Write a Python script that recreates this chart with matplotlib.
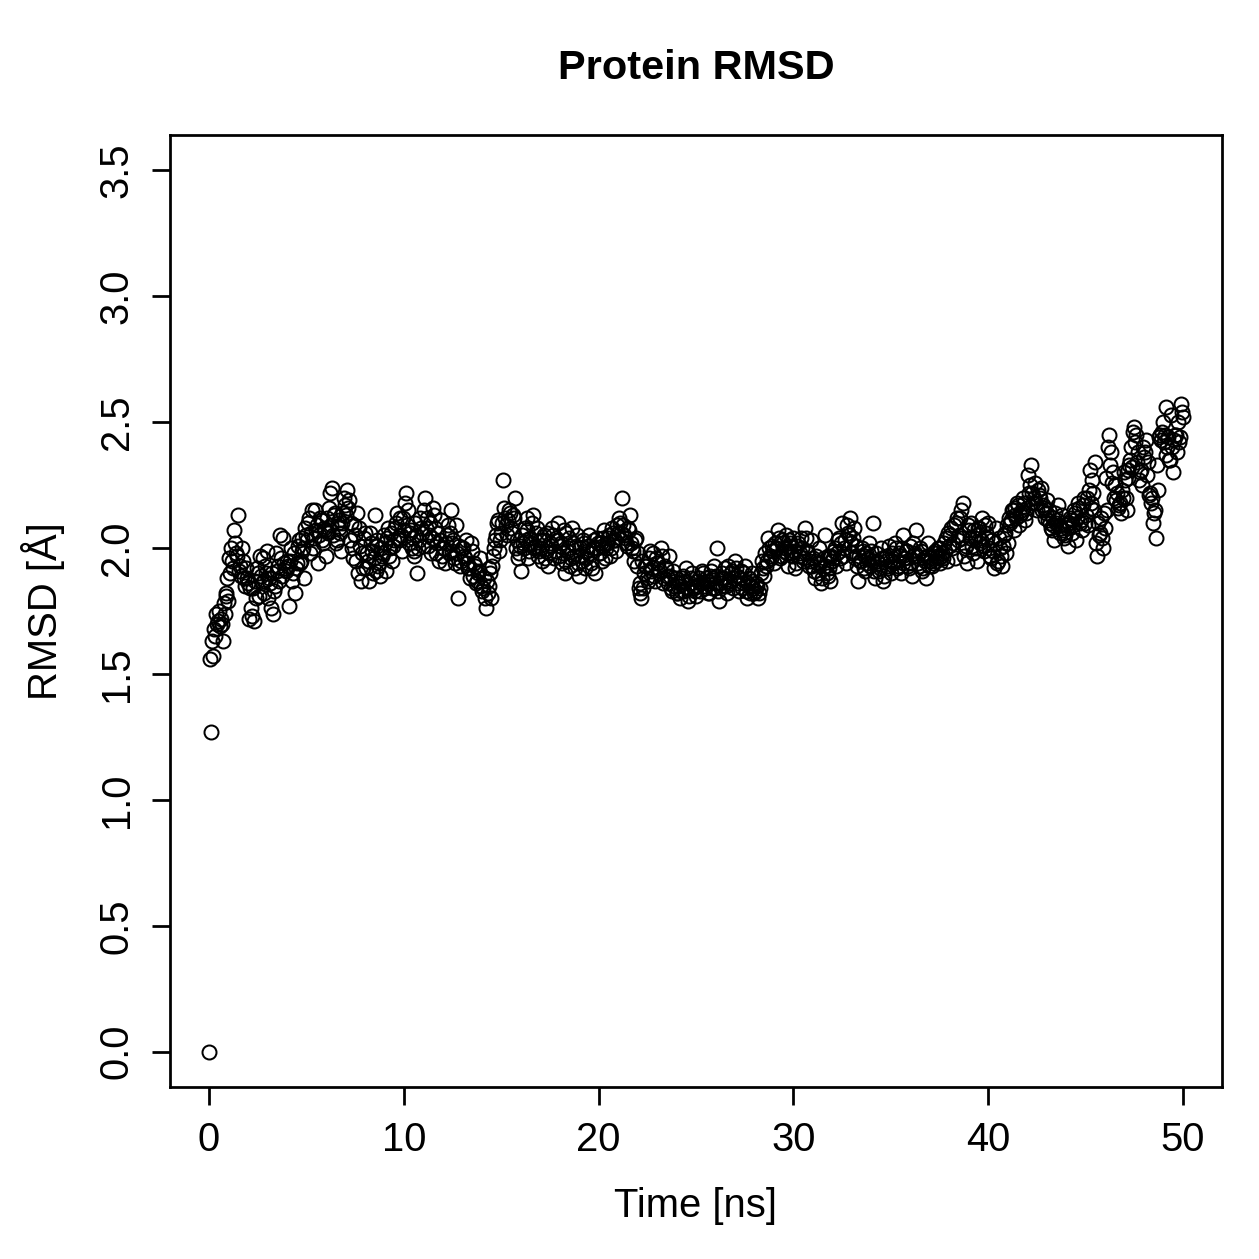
"""Protein RMSD over a 50 ns trajectory, R base-graphics look."""

import matplotlib

matplotlib.use("Agg")
import matplotlib.pyplot as plt
import numpy as np

# RMSD values (Angstrom).
# rmsd_rows: frames at k+0.1 ... k+1.0 ns, rmsd_half_rows: frames at k+0.05 ... k+0.95 ns
rmsd_start = [0.00]
rmsd_rows = [
    [1.27, 1.57, 1.65, 1.70, 1.75, 1.72, 1.63, 1.74, 1.82, 1.79],
    [1.90, 1.95, 2.07, 1.98, 2.13, 1.93, 2.00, 1.88, 1.92, 1.86],
    [1.84, 1.73, 1.71, 1.80, 1.90, 1.97, 1.86, 1.82, 1.93, 1.99],
    [1.88, 1.76, 1.74, 1.85, 1.91, 1.87, 1.96, 2.04, 1.92, 1.95],
    [1.77, 2.00, 1.90, 1.82, 1.94, 2.03, 1.95, 1.99, 1.88, 2.05],
    [2.10, 1.98, 2.15, 2.04, 2.07, 1.94, 2.12, 2.03, 2.08, 1.97],
    [2.06, 2.22, 2.24, 2.13, 2.02, 2.10, 2.08, 1.99, 2.14, 2.17],
    [2.23, 2.19, 2.10, 1.96, 2.05, 2.14, 2.08, 1.87, 1.92, 2.06],
    [1.98, 1.87, 2.02, 1.90, 2.13, 2.01, 1.93, 1.89, 1.97, 2.05],
    [1.91, 2.08, 2.00, 1.95, 2.03, 2.10, 2.04, 2.12, 1.99, 2.07],
    [2.22, 2.15, 2.06, 2.00, 1.97, 2.10, 1.90, 2.03, 2.08, 2.01],
    [2.20, 2.12, 2.05, 1.98, 2.16, 2.08, 2.02, 1.95, 2.11, 2.00],
    [1.94, 2.05, 1.98, 2.15, 2.02, 1.96, 2.09, 1.80, 1.93, 2.00],
    [1.97, 2.03, 1.92, 1.88, 1.99, 1.94, 1.86, 1.90, 1.96, 1.83],
    [1.88, 1.76, 1.82, 1.92, 1.80, 1.97, 2.03, 2.10, 1.99, 2.06],
    [2.27, 2.12, 2.05, 2.15, 2.08, 2.13, 2.20, 2.03, 1.98, 1.91],
    [2.02, 2.08, 2.12, 1.96, 2.04, 2.10, 2.00, 2.06, 1.97, 2.03],
    [1.95, 2.05, 1.99, 1.93, 2.02, 2.08, 1.96, 2.04, 2.10, 2.01],
    [1.94, 2.07, 1.90, 1.99, 2.04, 1.96, 2.02, 1.92, 2.05, 1.89],
    [1.97, 2.03, 1.92, 1.99, 2.05, 1.94, 2.00, 1.90, 2.04, 1.98],
    [2.02, 1.95, 2.07, 2.00, 2.04, 1.97, 2.08, 2.03, 1.99, 2.06],
    [2.10, 2.20, 2.05, 2.02, 2.08, 2.13, 2.00, 1.95, 2.04, 1.98],
    [1.86, 1.80, 1.84, 1.93, 1.88, 1.96, 1.91, 1.98, 1.87, 1.94],
    [1.90, 2.00, 1.86, 1.93, 1.89, 1.97, 1.84, 1.91, 1.87, 1.82],
    [1.85, 1.80, 1.88, 1.83, 1.92, 1.79, 1.86, 1.90, 1.84, 1.81],
    [1.87, 1.83, 1.91, 1.85, 1.88, 1.82, 1.89, 1.84, 1.93, 1.86],
    [2.00, 1.79, 1.88, 1.85, 1.92, 1.82, 1.87, 1.90, 1.84, 1.95],
    [1.89, 1.83, 1.91, 1.86, 1.93, 1.80, 1.88, 1.85, 1.90, 1.82],
    [1.86, 1.80, 1.84, 1.95, 1.89, 1.93, 2.04, 1.97, 2.01, 1.94],
    [2.00, 2.07, 1.96, 2.03, 1.99, 2.05, 1.93, 2.02, 1.98, 2.04],
    [1.92, 2.01, 1.97, 2.04, 1.95, 2.08, 1.99, 1.93, 2.03, 1.96],
    [1.88, 1.94, 2.00, 1.86, 1.92, 2.05, 1.90, 1.97, 1.87, 1.95],
    [1.99, 1.93, 2.03, 1.96, 2.10, 2.00, 1.94, 2.06, 2.12, 1.98],
    [2.08, 2.01, 1.87, 1.95, 2.00, 1.92, 1.97, 1.94, 2.02, 1.99],
    [2.10, 1.88, 1.95, 1.91, 2.00, 1.87, 1.96, 1.93, 2.01, 1.90],
    [1.95, 2.02, 1.92, 1.98, 1.90, 2.05, 1.96, 1.99, 1.93, 2.01],
    [1.89, 1.97, 2.07, 1.94, 2.00, 1.91, 1.96, 1.88, 2.02, 1.95],
    [1.93, 1.98, 1.95, 2.00, 1.94, 1.97, 1.96, 1.99, 1.95, 2.01],
    [2.08, 2.02, 1.96, 2.12, 2.05, 2.15, 2.18, 2.00, 1.94, 2.07],
    [2.10, 1.98, 2.04, 1.95, 2.08, 2.02, 2.12, 1.99, 2.06, 2.10],
    [1.97, 2.03, 1.92, 2.08, 1.95, 2.00, 1.93, 2.05, 1.98, 2.02],
    [2.10, 2.15, 2.07, 2.13, 2.18, 2.09, 2.14, 2.20, 2.11, 2.16],
    [2.22, 2.33, 2.18, 2.26, 2.15, 2.21, 2.24, 2.17, 2.12, 2.19],
    [2.15, 2.08, 2.12, 2.03, 2.10, 2.17, 2.06, 2.13, 2.04, 2.09],
    [2.01, 2.12, 2.06, 2.15, 2.03, 2.18, 2.10, 2.07, 2.20, 2.13],
    [2.09, 2.31, 2.16, 2.22, 2.34, 1.97, 2.05, 2.12, 2.00, 2.08],
    [2.15, 2.45, 2.38, 2.30, 2.25, 2.22, 2.17, 2.14, 2.20, 2.27],
    [2.15, 2.28, 2.35, 2.32, 2.48, 2.45, 2.38, 2.30, 2.25, 2.36],
    [2.43, 2.34, 2.22, 2.20, 2.14, 2.04, 2.23, 2.45, 2.46, 2.42],
    [2.56, 2.40, 2.35, 2.53, 2.30, 2.45, 2.38, 2.42, 2.57, 2.52],
]
rmsd_half_rows = [
    [1.56, 1.63, 1.68, 1.74, 1.71, 1.69, 1.70, 1.78, 1.81, 1.88],
    [1.96, 2.00, 1.92, 2.02, 1.97, 1.91, 1.89, 1.95, 1.85, 1.88],
    [1.72, 1.76, 1.84, 1.87, 1.92, 1.81, 1.89, 1.96, 1.87, 1.90],
    [1.80, 1.86, 1.90, 1.83, 1.98, 1.93, 2.05, 1.89, 1.94, 1.91],
    [1.93, 1.95, 1.87, 1.98, 1.92, 2.01, 1.94, 2.04, 2.00, 2.08],
    [2.03, 2.12, 2.06, 2.00, 2.15, 2.09, 2.05, 2.11, 2.02, 2.07],
    [2.12, 2.16, 2.09, 2.05, 2.14, 2.03, 2.11, 2.06, 2.10, 2.20],
    [2.13, 2.16, 2.03, 2.00, 2.09, 1.95, 1.90, 2.01, 1.98, 2.04],
    [1.92, 1.95, 2.06, 1.99, 1.96, 1.91, 2.03, 1.94, 2.00, 1.98],
    [2.02, 2.04, 1.97, 2.06, 2.01, 2.08, 2.14, 2.03, 2.05, 2.12],
    [2.18, 2.09, 2.02, 2.07, 2.04, 1.99, 2.05, 2.00, 2.12, 2.06],
    [2.15, 2.08, 2.01, 2.10, 2.04, 2.13, 1.98, 2.06, 2.03, 1.97],
    [2.00, 2.02, 2.09, 2.06, 1.99, 2.03, 1.94, 1.98, 2.01, 1.95],
    [2.00, 1.96, 1.94, 1.92, 2.02, 1.89, 1.93, 1.87, 1.91, 1.85],
    [1.84, 1.80, 1.87, 1.85, 1.90, 1.93, 2.00, 2.05, 2.11, 2.03],
    [2.10, 2.16, 2.09, 2.11, 2.14, 2.06, 2.12, 2.00, 1.96, 2.01],
    [2.05, 2.00, 2.03, 2.07, 1.99, 2.02, 2.13, 2.01, 2.08, 1.99],
    [2.00, 2.03, 1.96, 2.06, 1.98, 2.01, 2.05, 1.99, 2.03, 1.97],
    [2.02, 1.98, 1.95, 2.06, 2.00, 1.93, 2.08, 1.97, 2.01, 1.94],
    [2.00, 1.95, 2.02, 1.96, 2.01, 1.98, 1.92, 2.03, 2.00, 2.02],
    [1.98, 2.01, 2.04, 1.96, 2.02, 2.05, 2.00, 2.06, 2.03, 2.09],
    [2.12, 2.06, 2.09, 2.04, 2.01, 2.07, 2.02, 1.99, 2.03, 1.93],
    [1.84, 1.82, 1.95, 1.90, 1.93, 1.87, 1.99, 1.92, 1.89, 1.96],
    [1.94, 1.91, 1.97, 1.88, 1.92, 1.86, 1.89, 1.83, 1.85, 1.88],
    [1.82, 1.86, 1.83, 1.89, 1.87, 1.84, 1.81, 1.88, 1.85, 1.83],
    [1.85, 1.88, 1.86, 1.90, 1.84, 1.87, 1.82, 1.91, 1.88, 1.84],
    [1.89, 1.83, 1.86, 1.90, 1.88, 1.85, 1.93, 1.86, 1.91, 1.88],
    [1.92, 1.86, 1.88, 1.84, 1.90, 1.83, 1.86, 1.82, 1.87, 1.84],
    [1.83, 1.85, 1.82, 1.90, 1.92, 1.98, 1.95, 2.00, 1.96, 1.99],
    [2.02, 2.00, 2.04, 1.97, 2.02, 2.00, 1.98, 2.03, 2.01, 1.97],
    [1.99, 1.94, 2.02, 1.98, 2.00, 1.96, 2.04, 1.98, 1.95, 1.93],
    [1.91, 1.97, 1.90, 1.94, 1.88, 1.96, 1.93, 1.89, 1.92, 1.97],
    [1.96, 2.00, 1.98, 2.04, 2.02, 1.97, 2.03, 2.09, 2.05, 2.02],
    [2.04, 1.96, 1.93, 1.97, 1.95, 1.99, 1.91, 1.98, 1.96, 1.93],
    [1.95, 1.91, 1.98, 1.94, 1.92, 1.96, 1.89, 1.97, 1.92, 1.95],
    [1.98, 1.94, 2.00, 1.93, 1.97, 2.00, 1.94, 1.96, 1.99, 1.92],
    [1.94, 2.02, 1.98, 1.97, 1.93, 1.99, 1.92, 1.95, 1.97, 1.93],
    [1.96, 1.94, 1.99, 1.97, 1.96, 2.00, 1.98, 2.02, 2.04, 2.06],
    [2.05, 2.00, 2.09, 2.10, 2.03, 2.12, 2.04, 1.97, 2.01, 2.09],
    [2.04, 2.01, 2.07, 2.00, 2.05, 2.08, 2.03, 2.01, 2.09, 2.04],
    [2.00, 1.96, 1.99, 2.02, 1.94, 2.04, 1.97, 2.01, 2.06, 2.09],
    [2.12, 2.11, 2.15, 2.16, 2.12, 2.17, 2.13, 2.15, 2.18, 2.14],
    [2.29, 2.25, 2.22, 2.20, 2.18, 2.23, 2.20, 2.15, 2.16, 2.14],
    [2.11, 2.10, 2.07, 2.09, 2.14, 2.11, 2.09, 2.08, 2.07, 2.05],
    [2.08, 2.10, 2.11, 2.09, 2.14, 2.12, 2.16, 2.11, 2.17, 2.10],
    [2.20, 2.23, 2.18, 2.27, 2.15, 2.02, 2.10, 2.06, 2.04, 2.14],
    [2.28, 2.40, 2.33, 2.26, 2.20, 2.19, 2.16, 2.18, 2.23, 2.30],
    [2.20, 2.31, 2.33, 2.40, 2.46, 2.42, 2.34, 2.27, 2.31, 2.40],
    [2.38, 2.29, 2.21, 2.18, 2.10, 2.15, 2.33, 2.44, 2.43, 2.50],
    [2.45, 2.37, 2.44, 2.35, 2.40, 2.43, 2.45, 2.50, 2.44, 2.54],
]

rmsd_main = np.array(rmsd_start + [v for row in rmsd_rows for v in row])
time_main = np.arange(len(rmsd_main)) * 0.1
rmsd_half = np.array([v for row in rmsd_half_rows for v in row])
time_half = np.arange(len(rmsd_half)) * 0.1 + 0.05

order = np.argsort(np.concatenate([time_main, time_half]))
time_ns = np.concatenate([time_main, time_half])[order]
rmsd = np.concatenate([rmsd_main, rmsd_half])[order]

x_ticks = [0, 10, 20, 30, 40, 50]
y_ticks = [0.0, 0.5, 1.0, 1.5, 2.0, 2.5, 3.0, 3.5]

plt.rcParams.update(
    {
        "font.family": ["Liberation Sans", "DejaVu Sans"],
        "font.size": 16,
    }
)

fig = plt.figure(figsize=(1259 / 180, 1259 / 180), dpi=180)
ax = fig.add_axes([170 / 1259, 1 - 1087 / 1259, (1222 - 170) / 1259, (1087 - 135) / 1259])

ax.plot(
    time_ns,
    rmsd,
    linestyle="none",
    marker="o",
    markersize=5.6,
    markerfacecolor="none",
    markeredgecolor="black",
    markeredgewidth=0.8,
)

ax.set_xlim(-2.0, 52.0)
ax.set_ylim(-0.14, 3.64)
ax.set_xticks(x_ticks)
ax.set_xticklabels([str(t) for t in x_ticks])
ax.set_yticks(y_ticks)
ax.set_yticklabels([f"{t:.1f}" for t in y_ticks], rotation=90, va="center")

for spine in ax.spines.values():
    spine.set_linewidth(1.1)
ax.tick_params(direction="out", length=7.2, width=1.1, pad=6.5, labelsize=16)

ax.set_xlabel("Time [ns]", fontsize=16, labelpad=11)
ax.set_ylabel("RMSD [Å]", fontsize=16, labelpad=13)
fig.text(0.5527, 1 - 68 / 1259, "Protein RMSD", fontsize=16.6, fontweight="bold",
         ha="center", va="center")

fig.savefig("out.png", dpi=180)
